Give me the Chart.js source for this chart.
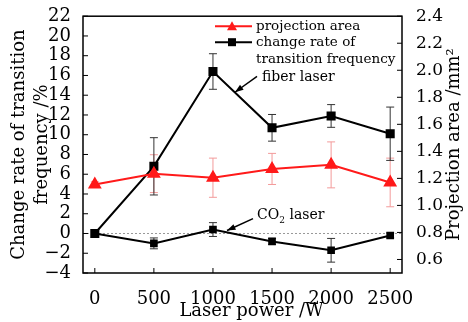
<!DOCTYPE html>
<html>
<head>
<meta charset="utf-8">
<script src="https://cdn.jsdelivr.net/npm/chart.js@4.4.1/dist/chart.umd.min.js"></script>
<style>
  html, body { margin: 0; padding: 0; background: #fff; }
</style>
</head>
<body>
<canvas id="chart" width="468" height="322"></canvas>
<script>
// data
const power = [0, 500, 1000, 1500, 2000, 2500];
const fiberRate = [0, 6.8, 16.4, 10.7, 11.9, 10.1];
const fiberErr = [0, 2.9, 1.8, 1.35, 1.15, 2.7];
const co2Rate = [0, -1.0, 0.4, -0.8, -1.7, -0.2];
const co2Err = [0, 0.55, 0.7, 0.3, 1.2, 0.25];
const area = [1.155, 1.235, 1.205, 1.27, 1.30, 1.17];
const areaErr = [0.02, 0.14, 0.145, 0.115, 0.17, 0.18];

const xTicks = [0, 500, 1000, 1500, 2000, 2500];
const leftTicks = [-4, -2, 0, 2, 4, 6, 8, 10, 12, 14, 16, 18, 20, 22];
const rightTicks = [0.6, 0.8, 1.0, 1.2, 1.4, 1.6, 1.8, 2.0, 2.2, 2.4];

const FONT = '"DejaVu Serif", "Liberation Serif", serif';
const RED = '#ff1a1a';
const RED_ERR = '#f39a9a';

const toPoints = vals => power.map((p, i) => ({ x: p, y: vals[i] }));
const setTicks = list => scale => { scale.ticks = list.map(v => ({ value: v })); };

// error bars, zero line, frame, inward ticks, titles, legend, notes
const decor = {
    id: 'decor',
    beforeDatasetsDraw(chart) {
        const { ctx, chartArea: a, scales } = chart;
        const x = scales.x, y = scales.y, y2 = scales.y2;

        ctx.save();
        ctx.strokeStyle = '#999';
        ctx.lineWidth = 1;
        ctx.setLineDash([2, 2]);
        ctx.beginPath();
        ctx.moveTo(a.left, y.getPixelForValue(0));
        ctx.lineTo(a.right, y.getPixelForValue(0));
        ctx.stroke();
        ctx.setLineDash([]);

        const bars = (vals, errs, sc, color) => {
            ctx.strokeStyle = color;
            ctx.lineWidth = 1;
            vals.forEach((v, i) => {
                if (!errs[i]) return;
                const px = x.getPixelForValue(power[i]);
                const t = sc.getPixelForValue(v + errs[i]);
                const b = sc.getPixelForValue(v - errs[i]);
                ctx.beginPath();
                ctx.moveTo(px, t); ctx.lineTo(px, b);
                ctx.moveTo(px - 4, t); ctx.lineTo(px + 4, t);
                ctx.moveTo(px - 4, b); ctx.lineTo(px + 4, b);
                ctx.stroke();
            });
        };
        bars(area, areaErr, y2, RED_ERR);
        bars(fiberRate, fiberErr, y, '#333');
        bars(co2Rate, co2Err, y, '#333');
        ctx.restore();
    },
    afterDraw(chart) {
        const { ctx, chartArea: a, scales } = chart;
        const x = scales.x, y = scales.y, y2 = scales.y2;
        ctx.save();

        // frame
        ctx.strokeStyle = '#000';
        ctx.lineWidth = 1.5;
        ctx.strokeRect(a.left, a.top, a.right - a.left, a.bottom - a.top);

        // inward ticks
        ctx.lineWidth = 1;
        ctx.beginPath();
        xTicks.forEach(v => {
            const px = x.getPixelForValue(v);
            ctx.moveTo(px, a.bottom); ctx.lineTo(px, a.bottom - 5);
        });
        leftTicks.forEach(v => {
            const py = y.getPixelForValue(v);
            ctx.moveTo(a.left, py); ctx.lineTo(a.left + 5, py);
        });
        rightTicks.forEach(v => {
            const py = y2.getPixelForValue(v);
            ctx.moveTo(a.right, py); ctx.lineTo(a.right - 5, py);
        });
        ctx.stroke();

        // axis titles
        ctx.fillStyle = '#000';
        ctx.font = '18px ' + FONT;
        ctx.textAlign = 'center';
        ctx.textBaseline = 'middle';
        ctx.fillText('Laser power /W', (a.left + a.right) / 2 + 9, 311);

        const midY = (a.top + a.bottom) / 2;
        ctx.save();
        ctx.translate(19, midY);
        ctx.rotate(-Math.PI / 2);
        ctx.fillText('Change rate of transition', 0, 0);
        ctx.fillText('frequency /%', 0, 23);
        ctx.restore();

        ctx.save();
        ctx.translate(454, midY);
        ctx.rotate(-Math.PI / 2);
        ctx.fillText('Projection area /mm\u00b2', 0, 0);
        ctx.restore();

        // legend
        ctx.font = '13.5px ' + FONT;
        ctx.textAlign = 'left';
        const lx = a.left + 132, ly = a.top + 10;
        ctx.lineWidth = 2;
        ctx.strokeStyle = RED;
        ctx.beginPath(); ctx.moveTo(lx, ly); ctx.lineTo(lx + 37, ly); ctx.stroke();
        ctx.fillStyle = RED;
        ctx.beginPath();
        ctx.moveTo(lx + 17, ly - 5); ctx.lineTo(lx + 22, ly + 4); ctx.lineTo(lx + 12, ly + 4);
        ctx.closePath(); ctx.fill();
        ctx.strokeStyle = '#000';
        ctx.beginPath(); ctx.moveTo(lx, ly + 16); ctx.lineTo(lx + 37, ly + 16); ctx.stroke();
        ctx.fillStyle = '#000';
        ctx.fillRect(lx + 13, ly + 12, 8, 8);
        ctx.fillText('projection area', lx + 41, ly);
        ctx.fillText('change rate of', lx + 41, ly + 16);
        ctx.fillText('transition frequency', lx + 41, ly + 33);

        // annotations with arrows, placed in data units
        const arrow = (x0, y0, x1, y1) => {
            const p0 = [x.getPixelForValue(x0), y.getPixelForValue(y0)];
            const p1 = [x.getPixelForValue(x1), y.getPixelForValue(y1)];
            const ang = Math.atan2(p1[1] - p0[1], p1[0] - p0[0]);
            ctx.lineWidth = 1.5;
            ctx.beginPath(); ctx.moveTo(p0[0], p0[1]); ctx.lineTo(p1[0], p1[1]); ctx.stroke();
            ctx.beginPath();
            ctx.moveTo(p1[0], p1[1]);
            ctx.lineTo(p1[0] - 9 * Math.cos(ang - 0.35), p1[1] - 9 * Math.sin(ang - 0.35));
            ctx.lineTo(p1[0] - 9 * Math.cos(ang + 0.35), p1[1] - 9 * Math.sin(ang + 0.35));
            ctx.closePath(); ctx.fill();
        };
        arrow(1373, 15.9, 1186, 14.3);
        arrow(1339, 1.5, 1119, 0.3);

        ctx.font = '14px ' + FONT;
        ctx.fillText('fiber laser', x.getPixelForValue(1415), y.getPixelForValue(15.8));
        const cx = x.getPixelForValue(1373), cy = y.getPixelForValue(1.8);
        ctx.fillText('CO', cx, cy);
        const w = ctx.measureText('CO').width;
        ctx.font = '9px ' + FONT;
        ctx.fillText('2', cx + w, cy + 5);
        const w2 = ctx.measureText('2').width;
        ctx.font = '14px ' + FONT;
        ctx.fillText(' laser', cx + w + w2, cy);

        ctx.restore();
    }
};

new Chart(document.getElementById('chart'), {
    type: 'line',
    data: {
        datasets: [
            {
                label: 'projection area',
                data: toPoints(area),
                yAxisID: 'y2',
                borderColor: RED,
                backgroundColor: RED,
                borderWidth: 2,
                pointStyle: 'triangle',
                pointRadius: 6,
                tension: 0
            },
            {
                label: 'fiber laser',
                data: toPoints(fiberRate),
                yAxisID: 'y',
                borderColor: '#000',
                backgroundColor: '#000',
                borderWidth: 2,
                pointStyle: 'rect',
                pointRadius: 5,
                tension: 0
            },
            {
                label: 'CO2 laser',
                data: toPoints(co2Rate),
                yAxisID: 'y',
                borderColor: '#000',
                backgroundColor: '#000',
                borderWidth: 2,
                pointStyle: 'rect',
                pointRadius: 4,
                tension: 0
            }
        ]
    },
    options: {
        responsive: false,
        animation: false,
        layout: { padding: { top: 14 } },
        plugins: { legend: { display: false }, tooltip: { enabled: false } },
        scales: {
            x: {
                type: 'linear',
                min: -100, max: 2600,
                afterBuildTicks: setTicks(xTicks),
                afterFit: s => { s.height = 49; },
                grid: { display: false },
                border: { display: false },
                ticks: { color: '#000', padding: 8, maxRotation: 0, autoSkip: false,
                    font: { family: FONT, size: 18 }, callback: v => String(v) }
            },
            y: {
                position: 'left',
                min: -4, max: 22,
                afterBuildTicks: setTicks(leftTicks),
                afterFit: s => { s.width = 83; },
                grid: { display: false },
                border: { display: false },
                ticks: { color: '#000', padding: 4, autoSkip: false, font: { family: FONT, size: 18 },
                    callback: v => v < 0 ? '\u2212' + Math.abs(v) : String(v) }
            },
            y2: {
                position: 'right',
                min: 0.5, max: 2.4,
                afterBuildTicks: setTicks(rightTicks),
                afterFit: s => { s.width = 66; },
                grid: { display: false },
                border: { display: false },
                ticks: { color: '#000', padding: 6, autoSkip: false, font: { family: FONT, size: 17 },
                    callback: v => v.toFixed(1) }
            }
        }
    },
    plugins: [decor]
});
</script>
</body>
</html>
